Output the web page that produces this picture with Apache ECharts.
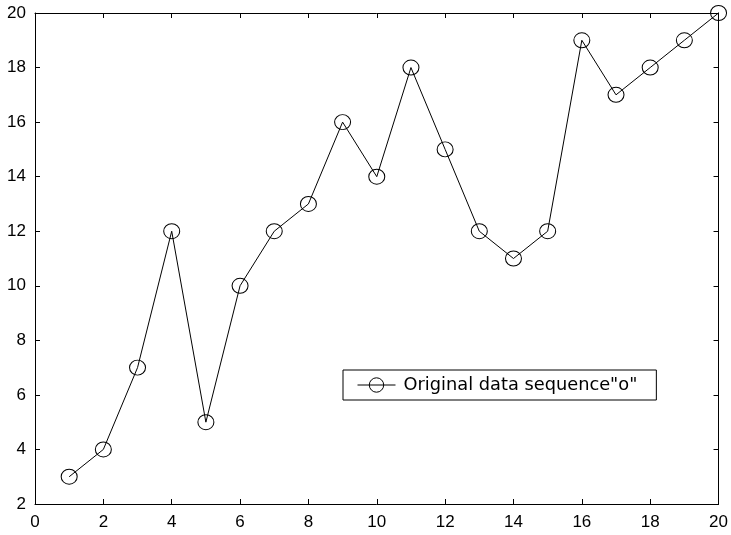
<!DOCTYPE html>
<html><head><meta charset="utf-8">
<script src="https://cdn.jsdelivr.net/npm/echarts@6/dist/echarts.min.js"></script>
<style>html,body{margin:0;padding:0;background:#fff}#c{width:731px;height:535px}</style>
</head><body><div id="c"></div>
<script>
const xValues = [1,2,3,4,5,6,7,8,9,10,11,12,13,14,15,16,17,18,19,20];
const yValues = [3,4,7,12,5,10,12,13,16,14,18,15,12,11,12,19,17,18,19,20];
const seriesName = 'Original data sequence"o"';
const font = 'Liberation Sans, Arial, Helvetica, sans-serif';
const chart = echarts.init(document.getElementById('c'));
const axisCommon = {
  axisLine: {show: true, onZero: false, lineStyle: {color: '#000', width: 1}},
  axisTick: {show: true, inside: true, length: 5, lineStyle: {color: '#000'}},
  splitLine: {show: false}
};
chart.setOption({
  animation: false,
  backgroundColor: '#fff',
  grid: {left: 35, right: 12, top: 13, bottom: 31, containLabel: false},
  xAxis: [
    Object.assign({type: 'value', min: 0, max: 20, interval: 2, position: 'bottom',
      axisLabel: {color: '#000', fontSize: 17, fontFamily: font, margin: 10}}, axisCommon),
    Object.assign({type: 'value', min: 0, max: 20, interval: 2, position: 'top',
      axisLabel: {show: false}}, axisCommon)
  ],
  yAxis: [
    Object.assign({type: 'value', min: 2, max: 20, interval: 2, position: 'left',
      axisLabel: {color: '#000', fontSize: 17, fontFamily: font, margin: 9}}, axisCommon),
    Object.assign({type: 'value', min: 2, max: 20, interval: 2, position: 'right',
      axisLabel: {show: false}}, axisCommon)
  ],
  legend: {
    show: true, left: 343, top: 370,
    data: [{name: seriesName}],
    itemWidth: 38, itemHeight: 18,
    padding: [6, 19, 6, 14],
    lineStyle: {width: 1, color: '#000'},
    itemStyle: {borderWidth: 1, borderColor: '#000', color: 'rgba(0,0,0,0)'},
    borderColor: '#000', borderWidth: 1, backgroundColor: '#fff', borderRadius: 0,
    textStyle: {color: '#000', fontSize: 17.8, fontFamily: 'DejaVu Sans, sans-serif', padding: [0,0,0,3]}
  },
  series: [{
    name: seriesName, type: 'line',
    data: xValues.map((x, i) => [x, yValues[i]]),
    symbol: 'circle', symbolSize: [16, 15],
    lineStyle: {color: '#000', width: 1},
    itemStyle: {color: 'rgba(0,0,0,0)', borderColor: '#000', borderWidth: 1},
    clip: false
  }]
});
</script></body></html>
